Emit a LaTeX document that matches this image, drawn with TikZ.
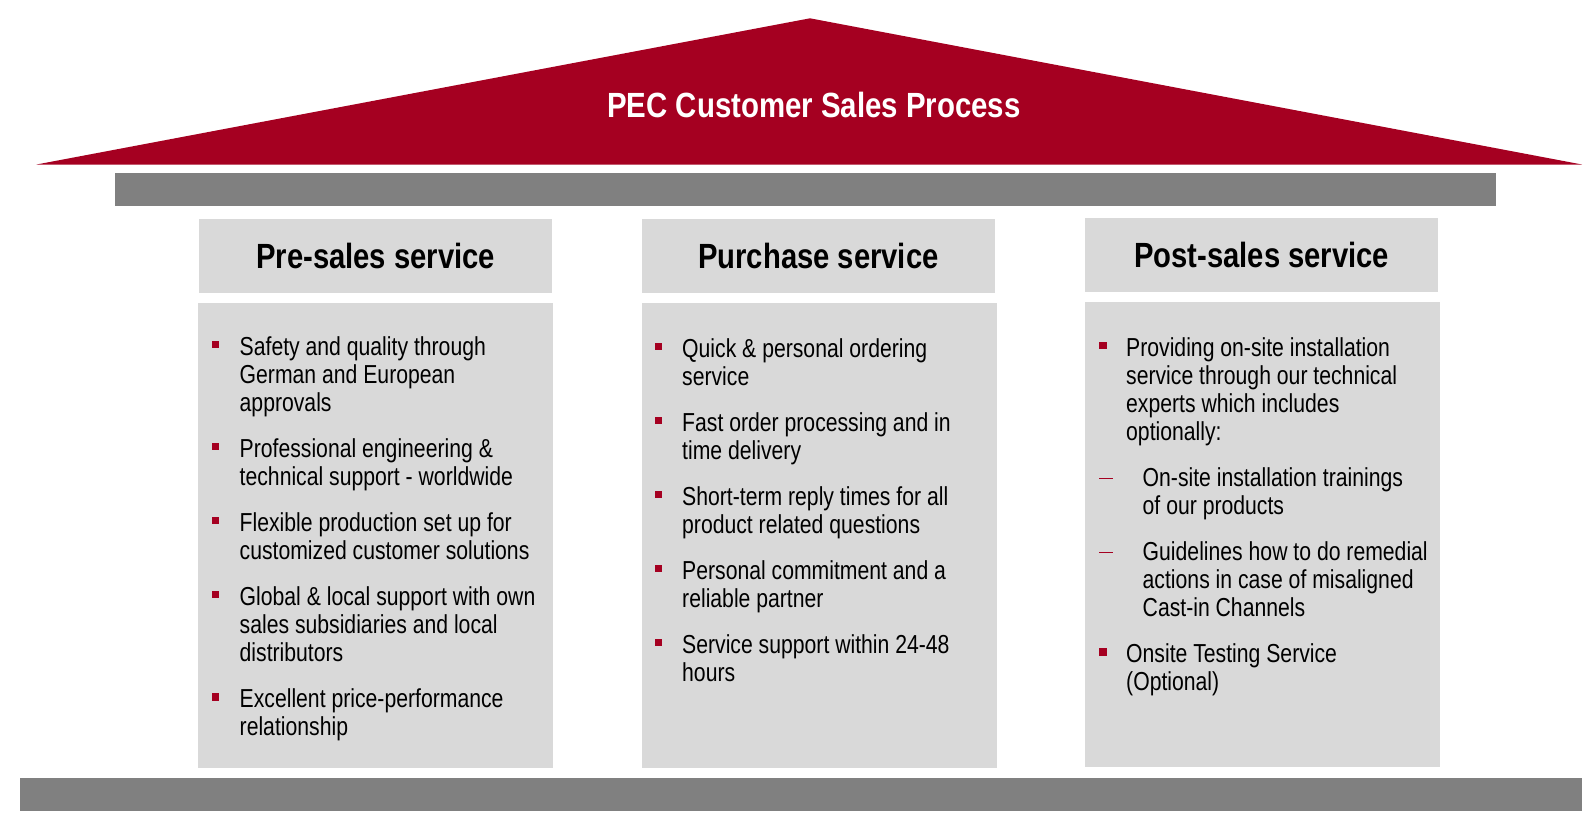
\documentclass[tikz,border=0pt]{standalone}
\usepackage{fontspec}
\setmainfont{Liberation Sans}
\newfontfamily\bodyfont[FakeStretch=0.815]{Liberation Sans}
\newfontfamily\headfont[FakeStretch=0.835]{Liberation Sans Bold}
\newfontfamily\titlefont[FakeStretch=0.84]{Liberation Sans Bold}
\definecolor{pecred}{RGB}{165,0,33}
\definecolor{bargray}{RGB}{128,128,128}
\definecolor{boxgray}{RGB}{217,217,217}
\newcommand\topstrut{\rule{0pt}{20pt}}
\begin{document}
\begin{tikzpicture}[x=1pt,y=-1pt,
  bar/.style={fill=bargray,draw=none},
  headbox/.style={fill=boxgray,draw=none,minimum width=353pt,minimum height=74pt,inner sep=0pt,anchor=north west,font=\headfont\fontsize{35}{40}\selectfont},
  bodybox/.style={fill=boxgray,draw=none,minimum width=355pt,minimum height=465pt,inner sep=0pt,anchor=north west},
  itemtext/.style={anchor=north west,inner sep=0pt,align=left,font=\bodyfont\fontsize{26}{28.1}\selectfont},
  sq/.style={fill=pecred,draw=none,minimum size=7.5pt,inner sep=0pt},
  dashmark/.style={fill=pecred,draw=none,minimum width=14pt,minimum height=1.6pt,inner sep=0pt},
  titletext/.style={text=white,font=\titlefont\fontsize{35}{40}\selectfont,inner sep=0pt}
]
\useasboundingbox (0,0) rectangle (1592,820);
\fill[white] (0,0) rectangle (1592,820);
% roof
\fill[pecred] (36.5,164.5) -- (810,18.3) -- (1582,164.5) -- cycle;
\node[titletext] (title) at (814,104.5) {PEC Customer Sales Process};
% bars
\fill[bar] (114.7,172.6) rectangle (1495.5,206);
\fill[bar] (20.3,777.7) rectangle (1582,811.2);
% headers
\node[headbox] (h1) at (199,218.3) {Pre-sales service};
\node[headbox] (h2) at (641.7,218.3) {Purchase service};
\node[headbox] (h3) at (1085,217.3) {Post-sales service};
% bodies
\node[bodybox] (b1) at (198,303) {};
\node[bodybox] (b2) at (641.7,303) {};
\node[bodybox] (b3) at (1085,302) {};
% column 1
\node[sq] (s11) at (215.5,344.3) {};
\node[itemtext] (t11) at (239.5,335) {\topstrut Safety and quality through\\German and European\\approvals};
\node[sq] (s12) at (215.5,446.5) {};
\node[itemtext] (t12) at (239.5,437.2) {\topstrut Professional engineering \&\\technical support - worldwide};
\node[sq] (s13) at (215.5,520.6) {};
\node[itemtext] (t13) at (239.5,511.3) {\topstrut Flexible production set up for\\customized customer solutions};
\node[sq] (s14) at (215.5,594.7) {};
\node[itemtext] (t14) at (239.5,585.4) {\topstrut Global \& local support with own\\sales subsidiaries and local\\distributors};
\node[sq] (s15) at (215.5,696.9) {};
\node[itemtext] (t15) at (239.5,687.6) {\topstrut Excellent price-performance\\relationship};
% column 2
\node[sq] (s21) at (658.5,346.3) {};
\node[itemtext] (t21) at (682,337) {\topstrut Quick \& personal ordering\\service};
\node[sq] (s22) at (658.5,420.4) {};
\node[itemtext] (t22) at (682,411.1) {\topstrut Fast order processing and in\\time delivery};
\node[sq] (s23) at (658.5,494.5) {};
\node[itemtext] (t23) at (682,485.2) {\topstrut Short-term reply times for all\\product related questions};
\node[sq] (s24) at (658.5,568.6) {};
\node[itemtext] (t24) at (682,559.3) {\topstrut Personal commitment and a\\reliable partner};
\node[sq] (s25) at (658.5,642.7) {};
\node[itemtext] (t25) at (682,633.4) {\topstrut Service support within 24-48\\hours};
% column 3
\node[sq] (s31) at (1103,345.3) {};
\node[itemtext] (t31) at (1126,336) {\topstrut Providing on-site installation\\service through our technical\\experts which includes\\optionally:};
\node[dashmark] (d32) at (1106,478.3) {};
\node[itemtext] (t32) at (1142.5,466.3) {\topstrut On-site installation trainings\\of our products};
\node[dashmark] (d33) at (1106,552.4) {};
\node[itemtext] (t33) at (1142.5,540.4) {\topstrut Guidelines how to do remedial\\actions in case of misaligned\\Cast-in Channels};
\node[sq] (s34) at (1103,651.9) {};
\node[itemtext] (t34) at (1126,642.6) {\topstrut Onsite Testing Service\\(Optional)};
\end{tikzpicture}
\end{document}
